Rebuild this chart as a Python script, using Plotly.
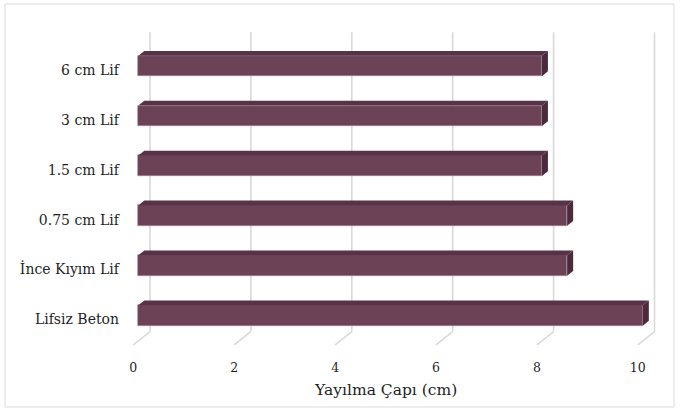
import plotly.graph_objects as go

# Data
categories = ["Lifsiz Beton", "İnce Kıyım Lif", "0.75 cm Lif", "1.5 cm Lif", "3 cm Lif", "6 cm Lif"]
values = [10, 8.5, 8.5, 8, 8, 8]
x_ticks = [0, 2, 4, 6, 8, 10]
x_title = "Yayılma Çapı (cm)"

# Pseudo-3D geometry (pixel calibration of the front floor edge)
W, H = 680, 412
ML, MR, MT, MB = 128, 10, 28, 62
X0_PX, X_SCALE = 133.3, 50.45      # px of value 0 and px per unit on the front edge
Y0_PX, Y_SCALE = 319.4, 49.9       # px of first category and px per category
DEPTH_X_PX, DEPTH_Y_PX = 16.7, 13.3

DX = DEPTH_X_PX / X_SCALE
DY = DEPTH_Y_PX / Y_SCALE
D_FRONT, D_BACK = 0.30, 0.66       # bar depth position inside the box
BAR_W = 0.41
FLOOR_Y = -0.51
WALL_H = 6.0

x_range = [(ML - X0_PX) / X_SCALE, (W - MR - X0_PX) / X_SCALE]
y_range = [(Y0_PX - (H - MB)) / Y_SCALE, (Y0_PX - MT) / Y_SCALE]

FRONT = "#6C4257"
TOP = "#563347"
SIDE = "#4A2A3B"
GRID = "#D9D9D9"
TEXT = "#1F1F1F"
FONT = "DejaVu Serif"

fig = go.Figure()

# Back-wall gridlines and floor diagonals, kept underneath the bars
for t in x_ticks:
    fig.add_shape(type="line", xref="x", yref="y", x0=t + DX, x1=t + DX,
                  y0=FLOOR_Y + DY, y1=FLOOR_Y + DY + WALL_H,
                  line=dict(color=GRID, width=1.6), layer="below")
    fig.add_shape(type="line", xref="x", yref="y", x0=t, x1=t + DX,
                  y0=FLOOR_Y, y1=FLOOR_Y + DY,
                  line=dict(color=GRID, width=1.6), layer="below")

# Front faces of the bars
yf = [i + D_FRONT * DY for i in range(len(values))]
fig.add_trace(go.Bar(
    y=yf, x=values, base=[D_FRONT * DX] * len(values), orientation="h", width=BAR_W,
    marker=dict(color=FRONT, line=dict(color="#A98396", width=0.6)),
    hoverinfo="skip", showlegend=False))

# Top and side faces
ddx = (D_BACK - D_FRONT) * DX
ddy = (D_BACK - D_FRONT) * DY
for i, v in enumerate(values):
    x0 = D_FRONT * DX
    x1 = v + D_FRONT * DX
    ytop = yf[i] + BAR_W / 2
    ybot = yf[i] - BAR_W / 2
    fig.add_trace(go.Scatter(
        x=[x0, x1, x1 + ddx, x0 + ddx, x0], y=[ytop, ytop, ytop + ddy, ytop + ddy, ytop],
        mode="lines", fill="toself", fillcolor=TOP, line=dict(width=0, color=TOP),
        hoverinfo="skip", showlegend=False))
    fig.add_trace(go.Scatter(
        x=[x1, x1 + ddx, x1 + ddx, x1, x1], y=[ybot, ybot + ddy, ytop + ddy, ytop, ybot],
        mode="lines", fill="toself", fillcolor=SIDE, line=dict(width=0, color=SIDE),
        hoverinfo="skip", showlegend=False))

# Axis title centred under the front axis
fig.add_annotation(x=(x_ticks[0] + x_ticks[-1]) / 2, xref="x", y=(H - MB - 390) / (H - MT - MB),
                   yref="paper", text=x_title, showarrow=False,
                   font=dict(family=FONT, size=15.5, color=TEXT), yanchor="middle")

# Chart-area border
pw, ph = W - ML - MR, H - MT - MB
fig.add_shape(type="rect", xref="paper", yref="paper",
              x0=(5 - ML) / pw, x1=(674 - ML) / pw,
              y0=(H - MB - 407) / ph, y1=(H - MB - 4) / ph,
              line=dict(color="#D9D9D9", width=1), layer="below")

fig.update_layout(
    width=W, height=H, margin=dict(l=ML, r=MR, t=MT, b=MB),
    paper_bgcolor="white", plot_bgcolor="white",
    font=dict(family=FONT, color=TEXT),
    bargap=0,
    xaxis=dict(range=x_range, tickvals=x_ticks, showgrid=False, zeroline=False,
               showline=False, ticks="", tickfont=dict(size=12.5, family=FONT, color=TEXT),
               ticklabelstandoff=8),
    yaxis=dict(range=y_range, tickvals=list(range(len(categories))), ticktext=categories,
               showgrid=False, zeroline=False, showline=False, ticks="",
               tickfont=dict(size=14, family=FONT, color=TEXT), ticklabelstandoff=8),
)

fig.write_html("out.html")
